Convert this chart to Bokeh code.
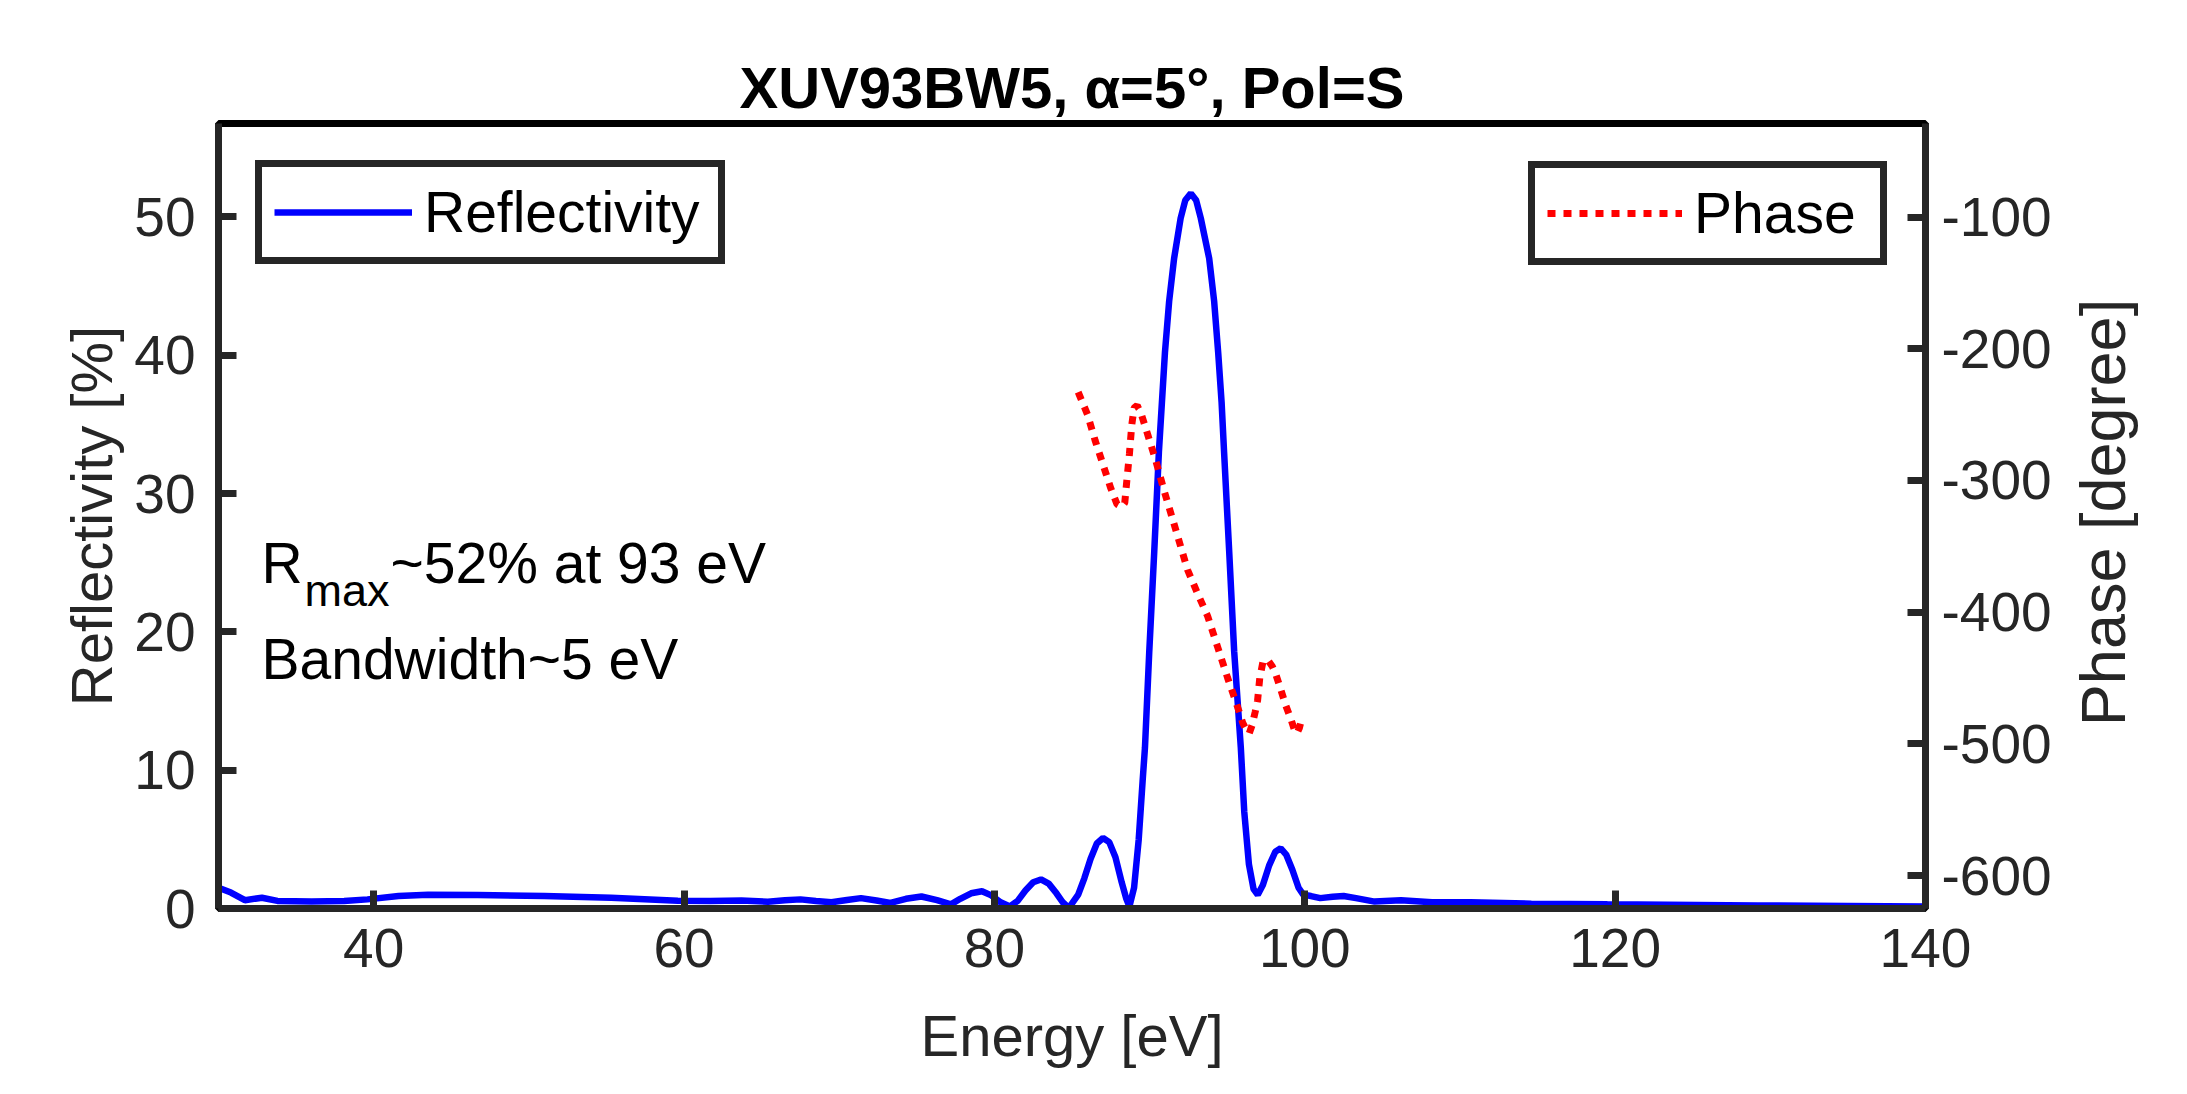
import math
from bokeh.plotting import figure
from bokeh.layouts import row
from bokeh.models import (Range1d, LinearAxis, Legend, LegendItem, Label, PrintfTickFormatter)
from bokeh.embed import file_html
from bokeh.resources import INLINE

# ---------------- data ----------------
energy_refl = [30.0, 30.8, 31.7, 32.8, 33.8, 36.0, 38.1, 39.6, 41.6, 43.5, 46.7, 51.0, 55.3, 59.6,
               61.7, 63.7, 65.4, 66.5, 67.5, 68.5, 69.5, 70.5, 71.4, 72.4, 73.3, 74.3, 75.3, 76.3,
               77.2, 77.8, 78.5, 79.2, 79.8, 80.4, 81.0, 81.5, 82.0, 82.5, 83.0, 83.5, 84.0, 84.4,
               84.8, 85.4, 85.8, 86.2, 86.6, 87.0, 87.4, 87.8, 88.2, 88.5, 88.7, 89.0, 89.3, 89.55,
               89.7, 89.98, 90.3, 90.6, 90.99, 91.26, 91.58, 92.0, 92.3, 92.66, 93.0, 93.3, 93.84,
               94.16, 94.42, 94.64, 94.8, 95.13, 95.45, 95.88, 96.1, 96.4, 96.7, 96.97, 97.3, 97.7,
               98.1, 98.45, 98.8, 99.2, 99.6, 99.9, 100.4, 101.0, 101.8, 102.5, 103.3, 104.5, 106.2,
               108.2, 110.7, 114.6, 119.5, 129.2, 135.0, 140.0]
reflectivity = [1.5, 1.15, 0.6, 0.78, 0.55, 0.5, 0.54, 0.66, 0.9, 1.0, 0.98, 0.9, 0.78, 0.56,
                0.54, 0.57, 0.49, 0.6, 0.66, 0.55, 0.45, 0.62, 0.75, 0.58, 0.4, 0.7, 0.87, 0.6,
                0.3, 0.7, 1.1, 1.25, 0.95, 0.45, 0.15, 0.55, 1.3, 1.9, 2.1, 1.8, 1.1, 0.45,
                0.05, 1.0, 2.2, 3.6, 4.7, 5.1, 4.8, 3.7, 1.9, 0.7, 0.15, 1.5, 5.0, 9.2,
                11.6, 18.6, 25.8, 33.0, 40.2, 43.9, 47.0, 49.9, 51.2, 51.7, 51.2, 49.9, 47.0,
                43.9, 40.2, 36.6, 33.0, 25.8, 18.6, 11.6, 7.0, 3.2, 1.4, 1.0, 1.7, 3.1,
                4.1, 4.35, 3.9, 2.8, 1.5, 1.0, 0.9, 0.75, 0.85, 0.9, 0.75, 0.5, 0.6,
                0.45, 0.45, 0.35, 0.3, 0.22, 0.18, 0.15]

energy_phase = [85.4, 86.0, 86.5, 87.0, 87.5, 87.9, 88.2, 88.4, 88.55, 88.7, 88.85, 89.0, 89.2,
                89.5, 89.9, 90.4, 90.94, 91.7, 92.45, 93.1, 93.74, 94.4, 95.03, 95.67, 96.0,
                96.25, 96.42, 96.6, 96.8, 96.96, 97.1, 97.3, 97.6, 97.9, 98.13, 98.46, 98.78,
                99.1, 99.35, 99.5, 99.65, 99.8]
phase = [-233, -250, -270, -288, -306, -318, -320, -317, -298, -280, -258, -245, -243,
         -251, -266, -285, -308, -338, -368, -386, -403, -427, -450, -472, -484,
         -490, -492, -486, -476, -467, -450, -438, -436, -441, -447, -459, -471,
         -481, -490, -492, -488, -481]

x_ticks = [40, 60, 80, 100, 120, 140]
refl_ticks = [0, 10, 20, 30, 40, 50]
phase_ticks = [-600, -500, -400, -300, -200, -100]

title_text = "XUV93BW5, \u03b1=5\u00b0, Pol=S"
x_label = "Energy [eV]"
y_label = "Reflectivity [%]"
y2_label = "Phase [degree]"

AX = "#262626"
FONT = "Liberation Sans"
H = 1078
W_MAIN = 2065
W_SIDE = 106

p = figure(width=W_MAIN, height=H, output_backend="svg", toolbar_location=None,
           x_range=Range1d(30, 140), y_range=Range1d(0, 56.75),
           min_border_left=218, min_border_right=W_MAIN - 1925, min_border_top=123,
           min_border_bottom=170)
p.extra_y_ranges = {"phase": Range1d(-625, -29)}
p.background_fill_color = "white"
p.border_fill_color = "white"
p.grid.visible = False
p.outline_line_color = "black"
p.outline_line_width = 7

p.title.text = title_text
p.title.align = "center"
p.title.text_font = FONT
p.title.text_font_size = "58px"
p.title.text_font_style = "bold"
p.title.text_color = "black"
p.title.standoff = 8

def style_axis(ax, ticks, label, label_standoff, tick_standoff):
    ax.ticker = ticks
    ax.formatter = PrintfTickFormatter(format="%d")
    if label:
        ax.axis_label = label
    ax.axis_label_text_font = FONT
    ax.axis_label_text_font_size = "58px"
    ax.axis_label_text_font_style = "normal"
    ax.axis_label_text_color = AX
    ax.axis_label_standoff = label_standoff
    ax.major_label_text_font = FONT
    ax.major_label_text_font_size = "55px"
    ax.major_label_text_color = AX
    ax.major_label_standoff = tick_standoff
    ax.axis_line_color = AX
    ax.axis_line_width = 7
    ax.major_tick_line_color = AX
    ax.major_tick_line_width = 7
    ax.major_tick_in = 18
    ax.major_tick_out = 0
    ax.minor_tick_line_color = None

style_axis(p.xaxis[0], x_ticks, x_label, 33, 20)
style_axis(p.yaxis[0], refl_ticks, y_label, 7, 23)

y2 = LinearAxis(y_range_name="phase")
p.add_layout(y2, "right")
style_axis(y2, phase_ticks, None, 28, 16)

r_refl = p.line(energy_refl, reflectivity, line_color="#0000ff", line_width=6.5)
r_phase = p.line(energy_phase, phase, line_color="#ff0000", line_width=7,
                 line_dash="8 8", y_range_name="phase")

def make_legend(item, loc, margin, glyph_w, label_w):
    lg = Legend(items=[item], location=loc)
    lg.margin = margin
    lg.padding = 12
    lg.spacing = 0
    lg.glyph_width = glyph_w
    lg.label_width = label_w
    lg.label_standoff = 12
    lg.label_text_font = FONT
    lg.label_text_font_size = "57px"
    lg.label_text_color = "black"
    lg.border_line_color = AX
    lg.border_line_alpha = 1.0
    lg.border_line_width = 7
    lg.background_fill_color = "white"
    lg.background_fill_alpha = 1.0
    return lg

p.add_layout(make_legend(LegendItem(label="Reflectivity", renderers=[r_refl]),
                         "top_left", 37, 138, 282), "center")
p.add_layout(make_legend(LegendItem(label="Phase", renderers=[r_phase]),
                         "top_right", 38, 135, 174), "center")

# annotation text (screen units relative to the plot frame)
common = dict(x_units="screen", y_units="screen", text_font=FONT, text_color="black",
              text_baseline="alphabetic")
p.add_layout(Label(x=43, y=346, text="R", text_font_size="57px", **common))
p.add_layout(Label(x=86, y=318, text="max", text_font_size="45px", **common))
p.add_layout(Label(x=172, y=346, text="~52% at 93 eV", text_font_size="57px", **common))
p.add_layout(Label(x=43, y=250, text="Bandwidth~5 eV", text_font_size="57px", **common))

# narrow companion figure that carries the right-hand axis title (reads bottom-to-top)
q = figure(width=W_SIDE, height=H, output_backend="svg", toolbar_location=None,
           x_range=Range1d(0, 1), y_range=Range1d(0, 1),
           x_axis_location=None, y_axis_location=None, min_border=0)
q.grid.visible = False
q.outline_line_color = None
q.background_fill_color = "white"
q.border_fill_color = "white"
q.add_layout(Label(x=37, y=396, text=y2_label, x_units="screen", y_units="screen",
                   angle=math.pi / 2, angle_units="rad", text_align="center",
                   text_baseline="middle", text_font=FONT, text_font_size="63px",
                   text_color=AX))

layout = row(p, q, spacing=0)
open("out.html", "w").write(file_html(layout, INLINE))
